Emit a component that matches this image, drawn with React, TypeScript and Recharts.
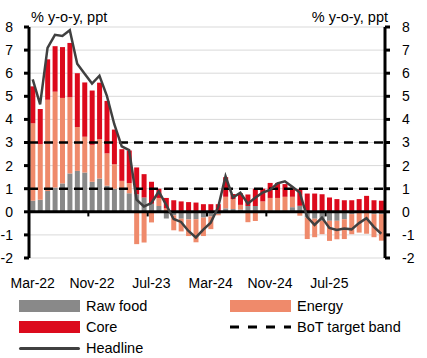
import {
  Bar,
  Line,
  XAxis,
  YAxis,
  CartesianGrid,
  ReferenceLine,
  ComposedChart,
} from "recharts";

// Months on the category axis
const months = [
  "Mar-22", "Apr-22", "May-22", "Jun-22", "Jul-22", "Aug-22", "Sep-22", "Oct-22",
  "Nov-22", "Dec-22", "Jan-23", "Feb-23", "Mar-23", "Apr-23", "May-23", "Jun-23",
  "Jul-23", "Aug-23", "Sep-23", "Oct-23", "Nov-23", "Dec-23", "Jan-24", "Feb-24",
  "Mar-24", "Apr-24", "May-24", "Jun-24", "Jul-24", "Aug-24", "Sep-24", "Oct-24",
  "Nov-24", "Dec-24", "Jan-25", "Feb-25", "Mar-25", "Apr-25", "May-25", "Jun-25",
  "Jul-25", "Aug-25", "Sep-25", "Oct-25", "Nov-25", "Dec-25", "Jan-26", "Feb-26",
];

const rawFood = [
  0.48, 0.52, 0.9, 1.05, 1.23, 1.66, 1.77, 1.7, 1.3, 1.44, 1.13, 1.0, 0.98, 0.8, 0.76, 0.62,
  0.35, 0.25, -0.29, -0.15, -0.3, -0.33, -0.32, -0.25, -0.2, -0.1, 0.15, 0.12, 0.1, 0.25, 0.25, 0.05,
  0.05, 0.05, 0.05, 0.2, 0.26, -0.25, -0.3, -0.39, -0.39, -0.39, -0.32, -0.1, -0.05, -0.05, -0.1, -0.1,
];

const energy = [
  3.35, 2.41, 3.95, 4.15, 3.7, 3.3, 1.9, 1.55, 1.6, 1.7, 1.4, 1.06, 0.36, 0.45, -1.4, -1.33,
  -0.46, 0.35, 0.15, -0.65, -0.55, -0.72, -1.0, -0.8, -0.55, -0.05, 0.5, 0.43, 0.2, -0.45, -0.4, 0.4,
  0.55, 0.55, 0.6, 0.45, -0.17, -0.93, -0.8, -0.58, -0.87, -0.8, -0.86, -0.87, -0.85, -0.9, -1.0, -1.15,
];

const core = [
  1.6, 1.52, 1.75, 1.97, 2.2, 2.35, 2.33, 2.35, 2.35, 2.45, 2.27, 1.5, 1.37, 1.4, 1.16, 1.01,
  0.95, 0.4, 0.45, 0.5, 0.45, 0.42, 0.4, 0.33, 0.33, 0.33, 0.85, 0.22, 0.5, 0.5, 0.75, 0.55,
  0.65, 0.65, 0.55, 0.4, 0.72, 0.79, 0.79, 0.76, 0.62, 0.55, 0.5, 0.5, 0.55, 0.69, 0.5, 0.48,
];

const headline = [
  5.73, 4.65, 7.1, 7.66, 7.61, 7.86, 6.41, 5.98, 5.55, 5.89, 5.02, 3.79, 2.83, 2.67, 0.53, 0.23,
  0.38, 0.88, 0.3, -0.31, -0.44, -0.83, -1.11, -0.77, -0.47, 0.19, 1.54, 0.62, 0.83, 0.35, 0.61, 0.83,
  0.95, 1.23, 1.32, 1.08, 0.84, -0.22, -0.57, -0.25, -0.7, -0.79, -0.72, -0.76, -0.49, -0.28, -0.65, -0.95,
];

const targetBand = [1, 3];
const yTicks = [-2, -1, 0, 1, 2, 3, 4, 5, 6, 7, 8];
const xTicks = ["Mar-22", "Nov-22", "Jul-23", "Mar-24", "Nov-24", "Jul-25"];
const zeroTicks = ["Nov-22", "Jul-23", "Mar-24", "Nov-24", "Jul-25"];

const COLORS = {
  rawFood: "#898989",
  energy: "#ef8a6b",
  core: "#dc0a1c",
  headline: "#404040",
};

const chartData = months.map((m, i) => ({
  month: m,
  rawFood: rawFood[i],
  energy: energy[i],
  core: core[i],
  headline: headline[i],
}));

const FONT = '"Liberation Sans", Arial, sans-serif';
const tickStyle = { fontSize: 14, fill: "#000", fontFamily: FONT };

function LegendItem({ left, top, label, kind, color }: { left: number; top: number; label: string; kind: "box" | "line" | "dash"; color: string }) {
  let swatch;
  if (kind === "box") {
    swatch = <div style={{ width: 61, height: 12, background: color }} />;
  } else if (kind === "line") {
    swatch = <div style={{ width: 61, height: 3, background: color, borderRadius: 2 }} />;
  } else {
    swatch = (
      <svg width={61} height={4}>
        <line x1={0} y1={2} x2={61} y2={2} stroke={color} strokeWidth={3} strokeDasharray="9 9" />
      </svg>
    );
  }
  return (
    <div style={{ position: "absolute", left, top, display: "flex", alignItems: "center", height: 18 }}>
      <div style={{ width: 61, display: "flex", alignItems: "center" }}>{swatch}</div>
      <span style={{ marginLeft: 6, fontSize: 14.5, color: "#000", lineHeight: "18px" }}>{label}</span>
    </div>
  );
}

export default function App() {
  return (
    <div style={{ position: "absolute", left: 0, top: 0, width: 427, height: 358, background: "#fff", fontFamily: FONT }}>
      <div style={{ position: "absolute", left: 31, top: 9, fontSize: 14.5, color: "#000" }}>% y-o-y, ppt</div>
      <div style={{ position: "absolute", right: 39, top: 9, fontSize: 14.5, color: "#000" }}>% y-o-y, ppt</div>
      <ComposedChart
        width={427}
        height={300}
        data={chartData}
        stackOffset="sign"
        barCategoryGap="18%"
        margin={{ top: 27, right: 0, bottom: 0, left: 0 }}
      >
        <CartesianGrid yAxisId="left" horizontal vertical={false} stroke="#d9d9d9" strokeWidth={1} />
        <XAxis
          dataKey="month"
          ticks={xTicks}
          interval={0}
          axisLine={false}
          tickLine={false}
          tickSize={6}
          tickMargin={14}
          height={42}
          tick={tickStyle}
        />
        <YAxis
          yAxisId="left"
          domain={[-2, 8]}
          ticks={yTicks}
          width={29}
          stroke="#000"
          strokeWidth={3}
          axisLine
          tickLine
          tickSize={5}
          tickMargin={11}
          tick={tickStyle}
        />
        <YAxis
          yAxisId="right"
          orientation="right"
          domain={[-2, 8]}
          ticks={yTicks}
          width={42}
          stroke="#000"
          strokeWidth={3}
          axisLine
          tickLine
          tickSize={5}
          tickMargin={12}
          tick={tickStyle}
        />
        <Bar yAxisId="left" dataKey="rawFood" stackId="c" fill={COLORS.rawFood} isAnimationActive={false} />
        <Bar yAxisId="left" dataKey="energy" stackId="c" fill={COLORS.energy} isAnimationActive={false} />
        <Bar yAxisId="left" dataKey="core" stackId="c" fill={COLORS.core} isAnimationActive={false} />
        <Line yAxisId="right" dataKey="headline" stroke="none" dot={false} activeDot={false} legendType="none" isAnimationActive={false} />
        <ReferenceLine yAxisId="left" y={0} stroke="#000" strokeWidth={3} />
        {zeroTicks.map((m) => (
          <ReferenceLine
            key={m}
            yAxisId="left"
            position="start"
            segment={[{ x: m, y: 0 }, { x: m, y: -0.2 }]}
            stroke="#000"
            strokeWidth={2}
          />
        ))}
        {targetBand.map((v) => (
          <ReferenceLine key={v} yAxisId="left" y={v} stroke="#000" strokeWidth={2.5} strokeDasharray="9 6" />
        ))}
        <Line
          yAxisId="left"
          type="linear"
          dataKey="headline"
          stroke={COLORS.headline}
          strokeWidth={2.5}
          dot={false}
          activeDot={false}
          isAnimationActive={false}
        />
      </ComposedChart>
      <LegendItem left={19} top={297} label="Raw food" kind="box" color={COLORS.rawFood} />
      <LegendItem left={19} top={318} label="Core" kind="box" color={COLORS.core} />
      <LegendItem left={19} top={339} label="Headline" kind="line" color={COLORS.headline} />
      <LegendItem left={230} top={297} label="Energy" kind="box" color={COLORS.energy} />
      <LegendItem left={230} top={318} label="BoT target band" kind="dash" color="#000" />
    </div>
  );
}
